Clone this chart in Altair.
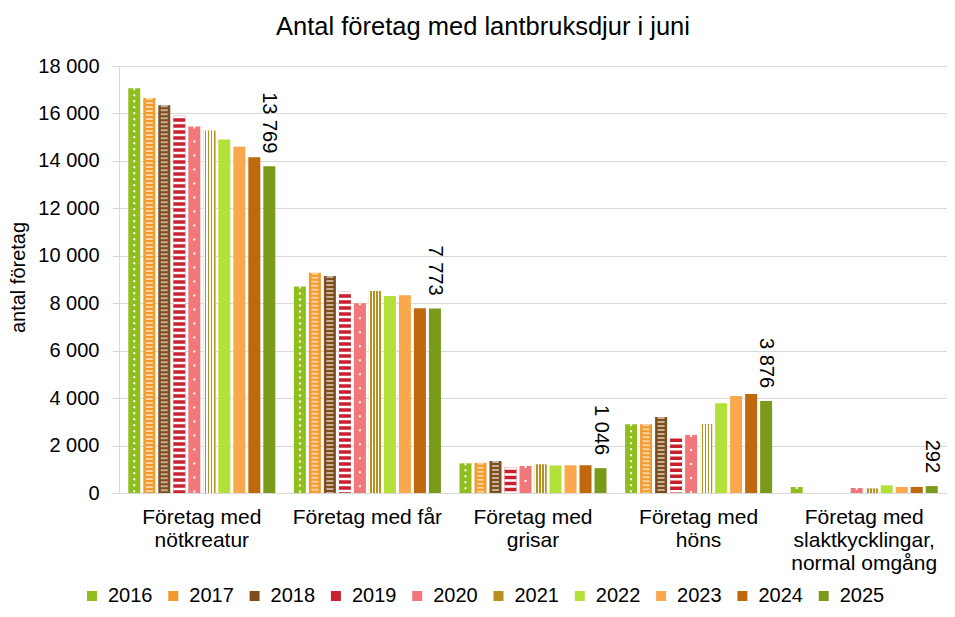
import altair as alt
import pandas as pd

categories = [
    "Företag med|nötkreatur",
    "Företag med får",
    "Företag med|grisar",
    "Företag med|höns",
    "Företag med|slaktkycklingar,|normal omgång",
]
years = ["2016", "2017", "2018", "2019", "2020", "2021", "2022", "2023", "2024", "2025"]

v2016 = [17060, 8700, 1250, 2900, 253]
v2017 = [16650, 9280, 1270, 2900, None]
v2018 = [16350, 9150, 1350, 3200, None]
v2019 = [15900, 8480, 1090, 2400, None]
v2020 = [15450, 8000, 1140, 2450, 211]
v2021 = [15270, 8500, 1200, 2900, 185]
v2022 = [14900, 8300, 1160, 3780, 323]
v2023 = [14600, 8340, 1170, 4090, 253]
v2024 = [14150, 7790, 1170, 4170, 256]
v2025 = [13769, 7773, 1046, 3876, 292]
series = [v2016, v2017, v2018, v2019, v2020, v2021, v2022, v2023, v2024, v2025]

colors = ["#8FBE1E", "#F39A2C", "#7E4E1E", "#C8202F", "#F2777B",
          "#B8901F", "#B4E03A", "#F9A94B", "#C0690C", "#7A9A1C"]

rows = []
for yr, vals in zip(years, series):
    for cat, v in zip(categories, vals):
        rows.append({"kategori": cat, "year": yr, "antal": v})
df = pd.DataFrame(rows)

FONT = "Liberation Sans"
GRID = "#D9D9D9"

x_enc = alt.X(
    "kategori:N", sort=categories,
    scale=alt.Scale(paddingInner=0.112, paddingOuter=0.056),
    axis=alt.Axis(title=None, labelExpr="split(datum.label, '|')", labelAngle=0,
                  labelFontSize=21, labelLineHeight=23, labelBaseline="top",
                  labelPadding=13, ticks=False, domainColor=GRID, labelColor="black",
                  labelLimit=0, labelFont=FONT),
)
xo_enc = alt.XOffset("year:N", sort=years, scale=alt.Scale(paddingInner=0.2, paddingOuter=0))
y_enc = alt.Y(
    "antal:Q", scale=alt.Scale(domain=[0, 18000], nice=False),
    axis=alt.Axis(title="antal företag", values=list(range(0, 18001, 2000)), format=",d",
                  labelFontSize=20, labelColor="black", labelPadding=13, tickSize=7,
                  tickColor=GRID, domainColor=GRID, gridColor=GRID,
                  titleFontSize=20, titleFontWeight="normal", titleColor="black",
                  titleX=-101, titleY=211, titleAngle=270, titleAlign="center",
                  titleBaseline="middle", labelFont=FONT, titleFont=FONT),
)

base = alt.Chart(df)

bars = base.mark_bar().encode(
    x=x_enc, xOffset=xo_enc, y=y_enc,
    color=alt.Color("year:N", sort=years, scale=alt.Scale(domain=years, range=colors),
                    legend=alt.Legend(title=None, orient="none", legendX=-37, legendY=520,
                                      direction="horizontal", columns=10, symbolType="square",
                                      symbolSize=100, symbolStrokeWidth=0, labelFontSize=20,
                                      labelOffset=6, columnPadding=10.3, padding=0,
                                      labelColor="black", labelFont=FONT)),
)

def rule_overlay(yr, **kw):
    return base.transform_filter(f"datum.year == '{yr}'").mark_rule(color="white", **kw).encode(
        x=x_enc, xOffset=xo_enc, y=alt.Y("antal:Q"), y2=alt.datum(0)
    )

dots16 = rule_overlay("2016", strokeWidth=2, strokeDash=[2, 4])
chk17 = rule_overlay("2017", strokeWidth=7, strokeDash=[2, 2], opacity=0.55)
chk18 = rule_overlay("2018", strokeWidth=7, strokeDash=[2, 2], opacity=0.55)
str19 = rule_overlay("2019", strokeWidth=12, strokeDash=[2.5, 3.5])
dots20 = rule_overlay("2020", strokeWidth=2, strokeDash=[2, 12])

stops = []
g, w = "#B8901F", "#FFFFFF"
edges = [0, 0.12, 0.25, 0.37, 0.5, 0.62, 0.75, 0.87, 1.0]
for i in range(len(edges) - 1):
    col = w if i % 2 == 0 else g
    stops.append({"offset": edges[i], "color": col})
    stops.append({"offset": edges[i + 1], "color": col})
stripes21 = base.transform_filter("datum.year == '2021'").mark_bar(
    fill={"gradient": "linear", "x1": 0, "y1": 0, "x2": 1, "y2": 0, "stops": stops}
).encode(x=x_enc, xOffset=xo_enc, y=alt.Y("antal:Q"))

labels = base.transform_filter("datum.year == '2025'").mark_text(
    angle=90, align="right", baseline="middle", dx=-13, fontSize=20, color="black", font=FONT
).encode(x=x_enc, xOffset=xo_enc, y=alt.Y("antal:Q"), text=alt.Text("antal:Q", format=","))

chart = alt.layer(bars, dots16, chk17, chk18, str19, dots20, stripes21, labels).properties(
    width=828, height=427,
    title=alt.TitleParams("Antal företag med lantbruksdjur i juni", fontSize=25.5,
                          fontWeight="normal", anchor="middle", frame="group", dx=-50,
                          offset=16, color="black", font=FONT),
    autosize=alt.AutoSizeParams(type="none"),
    padding={"left": 111, "top": 58, "right": 0, "bottom": 112},
).configure(
    font=FONT,
    locale={"number": {"decimal": ",", "thousands": " ", "grouping": [3], "currency": ["", " kr"]}},
).configure_view(stroke=None)

chart.save("out.html", embed_options={"renderer": "svg", "actions": False})
